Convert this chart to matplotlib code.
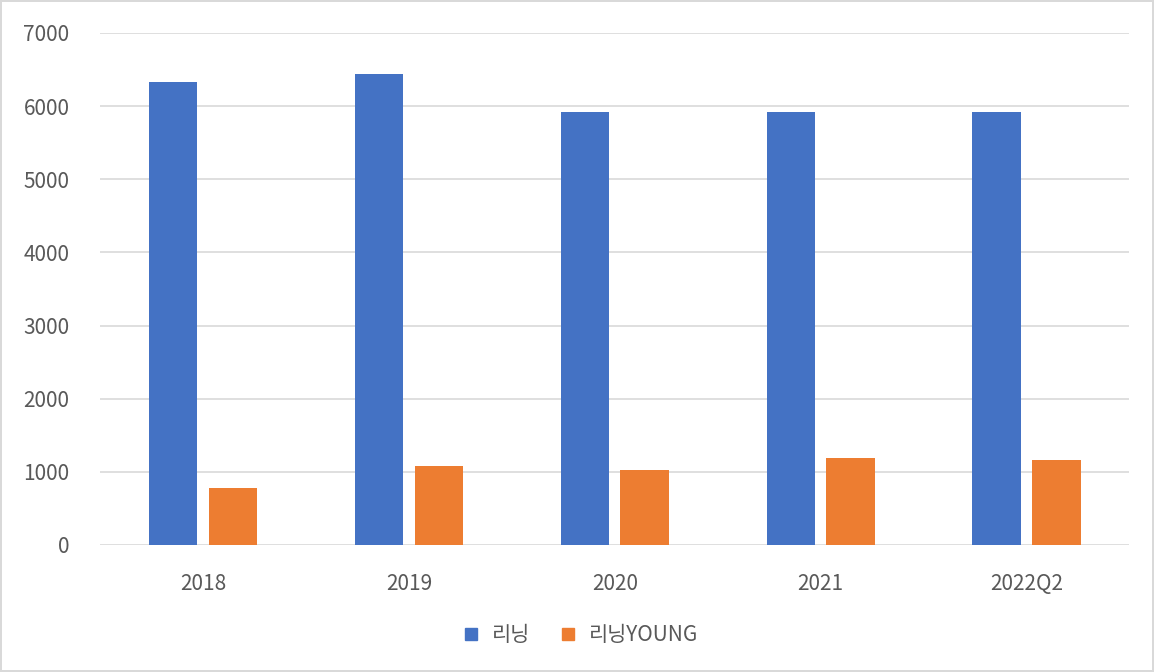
import numpy as np
import matplotlib.pyplot as plt
from matplotlib.lines import Line2D

plt.rcParams['font.family'] = ['Noto Sans CJK KR', 'DejaVu Sans']

# data
years = ['2018', '2019', '2020', '2021', '2022Q2']
lining = [6330, 6440, 5920, 5920, 5920]
lining_young = [780, 1085, 1030, 1195, 1160]

blue = '#4472C4'
orange = '#ED7D31'
txt = '#595959'

fig = plt.figure(figsize=(11.54, 6.72), dpi=100)
fig.patch.set_edgecolor('#d9d9d9')
fig.patch.set_linewidth(1.5)
ax = fig.add_axes([0.0867, 0.189, 0.892, 0.762])

x = np.arange(len(years))
w = 0.235
ax.bar(x - 0.145, lining, w, color=blue, zorder=3)
ax.bar(x + 0.145, lining_young, w, color=orange, zorder=3)

ax.set_xlim(-0.5, len(years) - 0.5)
ax.set_ylim(0, 7000)
ax.set_yticks(range(0, 7001, 1000))
ax.set_xticks(x)
ax.set_xticklabels(years)
ax.yaxis.grid(True, color='#d9d9d9', linewidth=1.2)
ax.set_axisbelow(True)
for s in ax.spines.values():
    s.set_visible(False)
ax.tick_params(length=0, colors=txt, labelsize=15)
ax.tick_params(axis='x', pad=20)
ax.tick_params(axis='y', pad=22)

handles = [Line2D([], [], marker='s', color=blue, linestyle='', markersize=8),
           Line2D([], [], marker='s', color=orange, linestyle='', markersize=8)]
fig.legend(handles, ['리닝', '리닝YOUNG'], loc='center', bbox_to_anchor=(0.503, 0.055),
           ncol=2, frameon=False, fontsize=15, labelcolor=txt,
           handlelength=0.8, handletextpad=0.6, columnspacing=1.4)

fig.savefig('out.png', dpi=100, edgecolor=fig.get_edgecolor())
